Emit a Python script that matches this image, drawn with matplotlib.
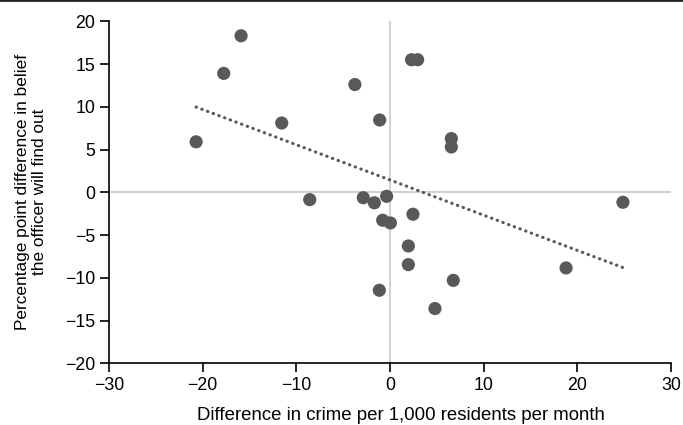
import numpy as np
import matplotlib
matplotlib.use("Agg")
import matplotlib.pyplot as plt

plt.rcParams['font.family'] = ['Liberation Sans', 'DejaVu Sans']

# difference in crime per 1,000 residents per month
crime_diff = [-20.7, -17.75, -15.9, -11.56, -8.57, -3.75, -2.85, -1.67, -1.1, -1.14,
              -0.78, -0.36, 0.04, 1.96, 1.96, 2.3, 2.95, 2.45, 4.8, 6.55,
              6.55, 6.76, 18.8, 24.87]
# percentage point difference in belief the officer will find out
belief_diff = [5.9, 13.9, 18.3, 8.1, -0.86, 12.6, -0.64, -1.23, 8.45, -11.46,
               -3.27, -0.47, -3.59, -6.28, -8.46, 15.5, 15.5, -2.57, -13.6, 6.28,
               5.3, -10.3, -8.85, -1.17]

xticks = [-30, -20, -10, 0, 10, 20, 30]
yticks = [-20, -15, -10, -5, 0, 5, 10, 15, 20]

x = np.array(crime_diff)
y = np.array(belief_diff)

fig = plt.figure(figsize=(6.83, 4.25), dpi=100)
ax = fig.add_axes([0.1596, 0.1452, 0.8228, 0.8048])

ax.axhline(0, color='#c8c8c8', lw=1.2, zorder=1)
ax.axvline(0, color='#c8c8c8', lw=1.2, zorder=1)

ax.scatter(x, y, s=90, color='#595959', edgecolors='none', zorder=3)

# linear trend
k, b = np.polyfit(x, y, 1)
xs = np.array([x.min(), x.max()])
ax.plot(xs, k * xs + b, color='#595959', lw=2.3, linestyle=(0, (0.1, 1.8)),
        dash_capstyle='round', zorder=2)

ax.set_xlim(-30, 30)
ax.set_ylim(-20, 20)
ax.set_xticks(xticks)
ax.set_yticks(yticks)
ax.set_xticklabels([str(v).replace('-', '\u2212') for v in xticks])
ax.set_yticklabels([str(v).replace('-', '\u2212') for v in yticks])
ax.tick_params(direction='out', length=6.5, width=1.2, labelsize=12.8, colors='black')

for s in ['top', 'right']:
    ax.spines[s].set_visible(False)
for s in ['left', 'bottom']:
    ax.spines[s].set_linewidth(1.2)
    ax.spines[s].set_color('black')

ax.set_xlabel('Difference in crime per 1,000 residents per month', fontsize=13.4, labelpad=9,
              x=0.519)
ax.set_ylabel('Percentage point difference in belief\nthe officer will find out', fontsize=12.4,
              linespacing=1.15)
ax.yaxis.set_label_coords(-0.11, 0.5)

fig.add_artist(plt.Line2D([0, 1], [0.999, 0.999], transform=fig.transFigure,
                          color='#222222', lw=2))

fig.savefig('out.png', dpi=100)
